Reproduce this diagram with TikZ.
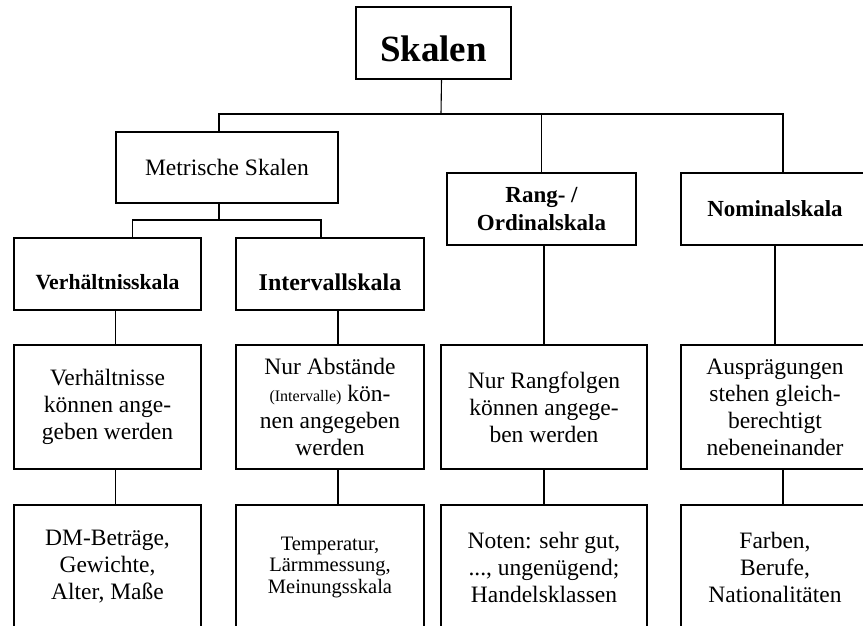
\documentclass[tikz,border=0pt]{standalone}
\usepackage{fontspec}
\setmainfont{Liberation Serif}

\begin{document}
\begin{tikzpicture}[x=1pt,y=-1pt,
  b/.style={draw,line width=1.4pt,inner sep=0pt,align=center,font=\fontsize{23.5}{27}\selectfont},
  h/.style={b,font=\bfseries\fontsize{23}{28}\selectfont}]
 \useasboundingbox (0,0) rectangle (863,625);
 \clip (0,0) rectangle (863,625);
 % ---- top levels ----
 \node[b,minimum width=155,minimum height=72,text height=36pt,text depth=0pt,font=\bfseries\fontsize{37}{40}\selectfont] (sk) at (433.5,43) {Skalen};
 \node[b,minimum width=222,minimum height=71] (metr) at (227,167.5) {Metrische Skalen};
 \node[h,minimum width=189,minimum height=72] (rang) at (541.5,209) {Rang- /\\Ordinalskala};
 \node[h,minimum width=188,minimum height=72] (nomin) at (775,209) {Nominalskala};
 \node[h,minimum width=187,minimum height=72,text height=30pt,text depth=0pt,font=\bfseries\fontsize{21.7}{25}\selectfont] (verh) at (107.5,274) {Verhältnisskala};
 \node[h,minimum width=188,minimum height=72,text height=32pt,text depth=0pt,font=\bfseries\fontsize{24}{28}\selectfont] (interv) at (330,274) {Intervallskala};
 % ---- descriptions ----
 \node[b,minimum width=187,minimum height=124] (verhtxt) at (107.5,407) {Verhältnisse\\können ange-\\geben werden};
 \node[b,minimum width=188,minimum height=124] (intervtxt) at (330,407) {Nur Abstände\\{\fontsize{16}{27}\selectfont(Intervalle)} kön-\\nen angegeben\\werden};
 \node[b,minimum width=206,minimum height=124] (rangtxt) at (544,407) {Nur Rangfolgen\\können angege-\\ben werden};
 \node[b,minimum width=188,minimum height=124] (nomintxt) at (775,407) {Ausprägungen\\stehen gleich-\\berechtigt\\nebeneinander};
 % ---- examples ----
 \node[b,minimum width=187,minimum height=124] (verhbsp) at (107.5,567) {DM-Beträge,\\Gewichte,\\Alter, Maße};
 \node[b,minimum width=188,minimum height=124,font=\fontsize{20.5}{21.5}\selectfont] (intervbsp) at (330,567) {Temperatur,\\Lärmmessung,\\Meinungsskala};
 \node[b,minimum width=206,minimum height=124] (rangbsp) at (544,567) {Noten: sehr gut,\\..., ungenügend;\\Handelsklassen};
 \node[b,minimum width=188,minimum height=124] (nominbsp) at (775,567) {Farben,\\Berufe,\\Nationalitäten};
 % ---- connectors ----
 \coordinate (bar) at (441,114);
 \coordinate (subbar) at (219,220);
 \begin{scope}[line width=1.1pt]
 \draw ([xshift=8]sk.south) -- (bar);
 \draw ([xshift=-8]metr.north) |- (bar) -| ([xshift=8]nomin.north);
 \draw (rang.north) -- (rang.north |- bar);
 \draw ([xshift=-8]metr.south) -- (subbar);
 \draw ([xshift=25]verh.north) |- (subbar) -| ([xshift=-9]interv.north);
 \draw ([xshift=8]verh.south) -- ([xshift=8]verhtxt.north);
 \draw ([xshift=8]interv.south) -- ([xshift=8]intervtxt.north);
 \draw (rangtxt.north |- rang.south) -- (rangtxt.north);
 \draw (nomin.south) -- (nomintxt.north);
 \draw ([xshift=8]verhtxt.south) -- ([xshift=8]verhbsp.north);
 \draw ([xshift=8]intervtxt.south) -- ([xshift=8]intervbsp.north);
 \draw (rangtxt.south) -- (rangbsp.north);
 \draw ([xshift=8]nomintxt.south) -- ([xshift=8]nominbsp.north);
 \end{scope}
\end{tikzpicture}
\end{document}
